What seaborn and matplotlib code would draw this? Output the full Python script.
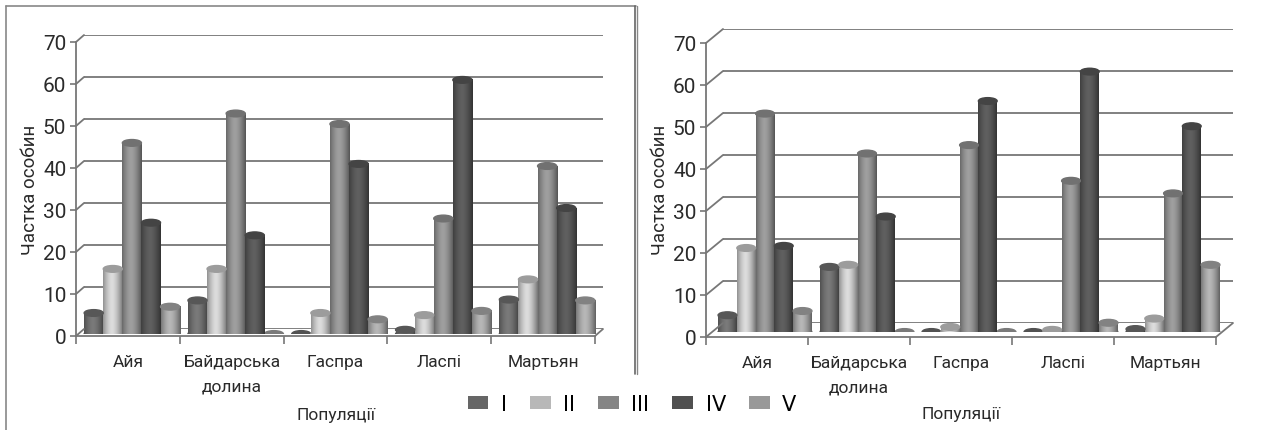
import numpy as np
import pandas as pd
import seaborn as sns
import matplotlib
matplotlib.use('Agg')
import matplotlib.pyplot as plt
from matplotlib.lines import Line2D
from matplotlib.patches import Ellipse, Patch
from matplotlib.colors import to_rgb

W, H = 1264, 431

populations = ["Айя", "Байдарська\nдолина", "Гаспра", "Ласпі", "Мартьян"]
classes = ["I", "II", "III", "IV", "V"]
colors = ["#666666", "#b8b8b8", "#858585", "#505050", "#999999"]

left_I = [5, 8, 0, 1, 8.2]
left_II = [15.5, 15.5, 5, 4.5, 13]
left_III = [45.5, 52.5, 50, 27.5, 40]
left_IV = [26.5, 23.5, 40.5, 60.5, 30]
left_V = [6.5, 0, 3.5, 5.5, 8]

right_I = [4, 15.5, 0, 0, 0.7]
right_II = [20, 16, 1.2, 0.5, 3.2]
right_III = [52, 42.5, 44.5, 36, 33]
right_IV = [20.5, 27.5, 55, 62, 49]
right_V = [5, 0, 0, 2.2, 16]

sns.set_theme(style="white")
plt.rcParams['font.family'] = ['Roboto', 'DejaVu Sans']
fig = plt.figure(figsize=(W / 100, H / 100), dpi=100)


def make_ax(x0, x1, y0, y70):
    # pixel box -> figure box
    return fig.add_axes([x0 / W, 1 - y0 / H, (x1 - x0) / W, (y0 - y70) / H])


def px_line(xs, ys, color="#777777", lw=1.3):
    fig.add_artist(Line2D([x / W for x in xs], [1 - y / H for y in ys],
                          color=color, lw=lw, transform=fig.transFigure))


def shade_bars(ax, cap):
    for cont, col in zip(ax.containers, colors):
        base = np.array(to_rgb(col))
        for bar in cont:
            x, w, h = bar.get_x(), bar.get_width(), bar.get_height()
            ax.add_patch(Ellipse((x + w / 2, 0), w, cap, color=base * 0.8, zorder=3))
            if h > 0:
                u = np.linspace(-1, 1, 40)
                k = 0.72 + 0.48 * (1 - np.abs(u + 0.1) ** 1.6)
                img = np.clip(base[None, None, :] * k[None, :, None], 0, 1)
                ax.imshow(img, extent=[x, x + w, 0, h], aspect="auto", zorder=4)
                ax.add_patch(Ellipse((x + w / 2, h), w, cap, color=np.clip(base * 0.85, 0, 1), zorder=5))
            bar.set_visible(False)
    ax.set_xlim(-0.5, 4.5)
    ax.set_ylim(0, 70)


def draw_chart(values, x0, x1, y0, y70, dx, dy, bar_dx, bar_dy):
    # back wall with the grid
    back = make_ax(x0 + dx, x1 + dx, y0 - dy, y70 - dy)
    back.set_ylim(0, 70)
    back.set_yticks(range(0, 80, 10))
    back.set_xticks([])
    back.set_yticklabels([])
    back.grid(True, axis="y", color="#808080", lw=1.4)
    sns.despine(ax=back, left=True, bottom=True)
    back.patch.set_alpha(0)

    # front axis, ticks and labels
    front = make_ax(x0, x1, y0, y70)
    front.patch.set_alpha(0)
    front.set_xlim(-0.5, 4.5)
    front.set_ylim(0, 70)
    front.set_yticks(range(0, 80, 10))
    front.set_xticks(range(5))
    front.set_xticklabels(populations, fontsize=12.5, color="#2a2a2a", linespacing=1.75)
    front.set_xticks(np.arange(-0.5, 5), minor=True)
    front.tick_params(axis="x", which="major", length=0, pad=13)
    front.tick_params(axis="x", which="minor", length=6, width=1.2, color="#777777", bottom=True)
    front.tick_params(axis="y", length=4, width=1.2, color="#777777", left=True, labelsize=15, labelcolor="#2a2a2a", pad=3)
    sns.despine(ax=front)
    for s in ["left", "bottom"]:
        front.spines[s].set_color("#777777")
        front.spines[s].set_linewidth(1.3)

    # connectors between front axis and back wall
    for v in range(0, 80, 10):
        y = y0 - (y0 - y70) * v / 70
        px_line([x0, x0 + dx], [y, y - dy])
    px_line([x1, x1 + dx], [y0, y0 - dy])

    # bars
    df = pd.DataFrame(values, index=populations, columns=classes).reset_index(names="pop")
    df = df.melt(id_vars="pop", var_name="cls", value_name="val")
    bars = make_ax(x0 + bar_dx, x1 + bar_dx, y0 - bar_dy, y70 - bar_dy)
    sns.barplot(data=df, x="pop", y="val", hue="cls", palette=colors, width=0.92,
                gap=0, legend=False, ax=bars)
    shade_bars(bars, 1.6)
    bars.axis("off")
    return front


left_vals = np.array([left_I, left_II, left_III, left_IV, left_V]).T
right_vals = np.array([right_I, right_II, right_III, right_IV, right_V]).T

draw_chart(left_vals, 76, 595, 337, 43, 8, 7, 4, 2)
draw_chart(right_vals, 706, 1216, 338, 44, 17, 14, 8, 5)

fig.text(30 / W, 1 - 190 / H, "Частка особин", rotation=90, ha="center", va="center", fontsize=13.5, color="#2a2a2a")
fig.text(660 / W, 1 - 190 / H, "Частка особин", rotation=90, ha="center", va="center", fontsize=13.5, color="#2a2a2a")
fig.text(336 / W, 1 - 416 / H, "Популяції", ha="center", va="center", fontsize=12.5, color="#2a2a2a")
fig.text(961 / W, 1 - 415 / H, "Популяції", ha="center", va="center", fontsize=12.5, color="#2a2a2a")

# frame of the left picture
px_line([6, 6], [7, 431], color="#888888", lw=1.2)
px_line([6, 636], [7, 7], color="#888888", lw=1.2)
px_line([635, 635], [7, 375], color="#666666", lw=1.2)
px_line([637, 637], [7, 375], color="#888888", lw=1.0)

handles = [Patch(facecolor=c, edgecolor="none", label=n) for c, n in zip(colors, classes)]
fig.legend(handles=handles, loc="center", bbox_to_anchor=(632 / W, 1 - 405 / H), ncol=5, frameon=False,
           prop={"family": "DejaVu Sans", "size": 15}, labelcolor="black", handlelength=1.0, handleheight=0.6,
           columnspacing=1.1, handletextpad=0.6)

fig.savefig("out.png", dpi=100)
